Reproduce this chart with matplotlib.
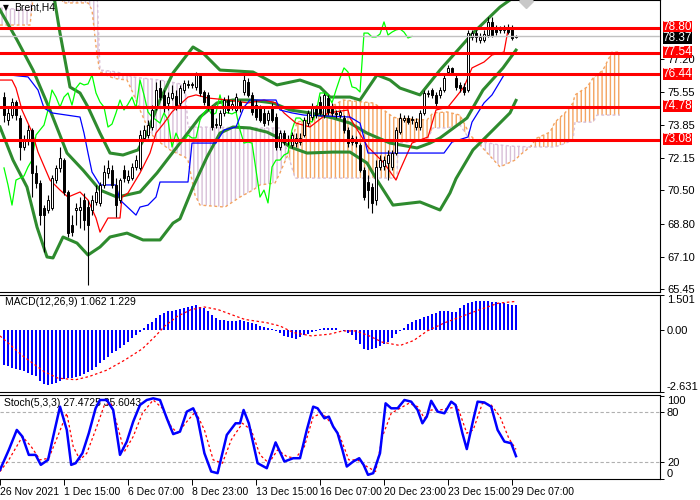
import matplotlib
matplotlib.use("Agg")
import matplotlib.pyplot as plt
import numpy as np

plt.rcParams['font.family'] = ['Liberation Sans', 'DejaVu Sans']
plt.rcParams['hatch.linewidth'] = 1.0

# candles, Brent H4 (bar index 0..128)
opens = [75.27, 74.10, 74.35, 75.02, 74.20, 72.72, 73.08, 73.59, 71.39, 70.88,
         69.60, 69.50, 69.60, 71.03, 71.65, 72.05, 70.42, 68.73, 69.50, 69.50,
         70.01, 69.65, 69.50, 69.91, 69.86, 70.78, 71.39, 71.54, 70.78, 70.01,
         71.54, 71.03, 71.13, 71.70, 71.65, 73.18, 73.33, 73.74, 74.76, 75.73,
         75.38, 74.97, 75.22, 75.32, 74.97, 75.63, 75.94, 75.89, 75.79, 76.40,
         75.53, 75.38, 74.76, 73.84, 73.84, 74.46, 75.12, 74.76, 74.61, 75.02,
         75.53, 76.04, 75.38, 74.86, 74.71, 74.46, 74.10, 74.76, 74.25, 72.72,
         73.43, 73.08, 72.82, 72.92, 72.97, 73.33, 73.94, 74.25, 74.71, 75.02,
         74.35, 75.22, 74.76, 74.46, 74.35, 74.20, 73.59, 73.18, 73.08, 72.82,
         71.54, 70.93, 70.67, 70.01, 71.70, 71.75, 71.90, 71.70, 72.41, 73.48,
         74.10, 74.20, 74.15, 73.74, 73.74, 74.46, 75.43, 75.63, 75.38, 75.38,
         75.63, 76.55, 76.76, 76.24, 75.89, 75.79, 75.63, 78.34, 78.54, 78.19,
         78.19, 78.44, 79.11, 78.80, 78.75, 78.70, 78.85, 78.75, 78.34]
highs = [75.53, 74.71, 75.22, 75.12, 74.35, 73.33, 73.84, 73.69, 71.80, 71.03,
         69.75, 70.27, 71.29, 71.80, 72.72, 72.15, 70.52, 69.24, 69.86, 70.16,
         70.37, 70.01, 70.27, 70.78, 70.93, 71.80, 72.05, 71.80, 71.13, 71.13,
         71.80, 71.54, 71.90, 72.31, 73.59, 73.84, 74.10, 74.86, 76.04, 76.14,
         75.63, 75.53, 75.89, 75.63, 75.89, 76.14, 76.14, 76.04, 76.55, 76.50,
         75.63, 75.53, 74.86, 74.20, 74.61, 75.27, 75.38, 75.12, 75.48, 75.12,
         76.40, 76.24, 75.53, 75.12, 74.86, 74.71, 74.61, 74.97, 74.46, 73.59,
         73.59, 73.33, 73.48, 73.43, 73.43, 74.25, 74.61, 74.97, 74.86, 75.32,
         75.48, 75.38, 74.97, 74.61, 74.61, 74.35, 73.74, 73.33, 73.28, 72.92,
         71.70, 71.29, 70.88, 72.05, 72.31, 72.26, 72.57, 72.57, 73.74, 74.46,
         74.35, 74.35, 74.30, 74.20, 74.61, 75.63, 75.63, 75.73, 75.53, 75.79,
         76.40, 76.91, 76.81, 76.40, 76.04, 75.99, 78.70, 78.70, 78.70, 78.54,
         78.70, 79.36, 79.36, 78.95, 78.90, 78.95, 79.00, 78.95, 78.44]
lows = [73.99, 73.84, 74.20, 74.10, 72.05, 72.57, 72.82, 70.16, 70.62, 68.73,
        67.35, 69.35, 69.50, 70.88, 71.44, 70.27, 68.12, 68.17, 68.73, 68.58,
        68.48, 65.67, 69.24, 69.75, 69.70, 70.62, 71.13, 70.62, 69.14, 69.86,
        70.93, 70.88, 71.03, 71.54, 71.54, 73.08, 73.18, 73.59, 74.61, 75.12,
        74.51, 74.61, 75.12, 74.61, 74.81, 75.48, 75.73, 75.73, 75.63, 75.32,
        74.86, 74.61, 73.59, 73.69, 73.69, 74.30, 74.46, 74.61, 74.51, 74.51,
        75.38, 75.27, 74.35, 74.10, 73.99, 73.79, 73.84, 73.99, 72.57, 72.57,
        72.82, 72.82, 72.67, 72.72, 72.82, 73.23, 73.79, 74.10, 74.20, 74.35,
        74.20, 74.35, 74.30, 74.20, 74.20, 73.43, 72.72, 72.82, 72.72, 71.44,
        70.01, 69.60, 69.35, 69.75, 71.54, 71.54, 71.03, 71.54, 72.31, 73.38,
        73.99, 73.89, 73.89, 73.59, 73.59, 74.35, 75.27, 75.22, 74.81, 75.22,
        75.53, 76.40, 76.40, 75.63, 75.53, 75.38, 75.53, 78.19, 78.08, 78.03,
        78.08, 78.34, 78.34, 78.44, 78.54, 78.54, 78.49, 78.19, 78.29]
closes = [74.35, 74.46, 75.02, 74.35, 72.72, 73.08, 73.59, 71.39, 70.88, 69.24,
          69.24, 70.01, 71.13, 71.65, 72.15, 70.42, 68.32, 68.37, 69.60, 69.65,
          68.99, 68.73, 70.01, 70.42, 70.78, 71.44, 71.65, 70.78, 69.75, 71.03,
          71.13, 71.24, 71.70, 72.05, 73.33, 73.59, 73.84, 74.61, 75.63, 75.27,
          74.76, 75.27, 75.48, 74.86, 75.73, 75.99, 75.89, 75.94, 76.40, 75.48,
          75.02, 74.76, 73.74, 73.89, 74.46, 75.12, 74.61, 74.91, 75.27, 74.71,
          76.14, 75.38, 74.51, 74.25, 74.10, 73.94, 74.46, 74.10, 72.72, 73.43,
          72.97, 73.03, 73.33, 73.18, 73.18, 74.10, 74.46, 74.71, 74.35, 74.46,
          75.38, 74.51, 74.46, 74.41, 74.51, 73.59, 72.92, 72.97, 72.92, 71.54,
          70.16, 70.52, 69.86, 71.70, 72.05, 72.05, 72.31, 72.41, 73.59, 74.20,
          74.20, 73.99, 74.10, 73.99, 74.46, 75.48, 75.48, 75.38, 74.97, 75.63,
          76.24, 76.76, 76.55, 75.79, 75.73, 75.53, 78.54, 78.54, 78.34, 78.34,
          78.49, 79.11, 78.44, 78.59, 78.70, 78.75, 78.59, 78.29, 78.37]

# Ichimoku: tenkan (red), kijun (blue), cloud spans
tk_i = [-1, 2, 3, 4.5, 7, 8.5, 11.5, 14, 16, 19, 21, 23, 24, 26, 29, 29.5, 31, 34, 36.5, 38,
        40, 42, 46, 48, 51, 56, 61, 65, 68, 70, 73, 76.5, 81, 86, 86.5, 91, 95, 98, 99, 102,
        106, 108, 111, 113, 115, 117, 120, 122, 125, 126, 128]
tenkan = [76.14, 76.14, 75.73, 74.61, 73.48, 72.46, 71.03, 70.52, 70.16, 70.42,
          70.01, 69.09, 68.37, 69.09, 69.09, 70.16, 70.37, 71.39, 72.41, 73.43,
          73.94, 74.51, 75.27, 75.38, 75.22, 75.12, 74.97, 75.12, 74.97, 74.46,
          73.94, 73.74, 74.46, 74.61, 74.20, 72.72, 71.90, 71.03, 71.54, 72.92,
          73.23, 74.61, 74.76, 75.27, 75.79, 76.76, 77.06, 77.42, 77.57, 78.70, 78.80]
kj_i = [-1, 6, 8.5, 10, 12, 19, 20, 21, 22, 24, 28, 29, 33, 34, 36, 38, 39, 46, 47, 53,
        55, 58, 60, 61.5, 68, 69, 72, 75, 86.5, 89, 91, 110, 112, 116, 117, 120, 122, 125, 128]
kijun = [76.45, 76.30, 75.63, 74.71, 74.46, 74.25, 73.43, 72.41, 71.44, 70.78,
         70.78, 70.01, 69.24, 69.65, 69.75, 70.16, 70.93, 70.93, 72.92, 72.92,
         73.59, 73.74, 74.76, 75.12, 75.12, 74.61, 74.46, 74.35, 74.25, 73.94,
         72.41, 72.41, 72.97, 73.23, 73.99, 74.97, 75.38, 76.40, 76.45]
cl_i = [-1, 6.5, 7.5, 14, 14.75, 21, 22, 23.25, 24, 26.5, 28.25, 30.75, 32.25, 34, 36.5,
        39, 41.5, 45.25, 46, 47.75, 49, 55.25, 59, 62.25, 64, 67.75, 69, 71.5, 72.75, 73.25,
        75.75, 80.25, 84.75, 92.25, 94, 97.25, 98.25, 98.5, 105.75, 107.25, 110.75, 114,
        116.5, 119, 124, 127.75, 129, 131.5, 133.25, 136.5, 137.75, 140.25, 142.25, 142.75,
        145.75, 147.25, 148.25, 149.75, 152, 154]
span_a = [78.95, 78.95, 80.74, 80.74, 80.08, 80.08, 79.72, 77.42, 76.55, 76.30,
          76.20, 76.14, 75.48, 74.61, 73.43, 72.95, 72.57, 72.20, 72.05, 70.27,
          69.75, 69.65, 70.16, 70.52, 70.78, 70.88, 71.40, 72.57, 73.60, 73.99,
          74.10, 74.61, 75.12, 74.97, 74.76, 74.25, 74.20, 74.20, 74.10, 74.46,
          74.51, 74.35, 73.33, 72.82, 71.70, 72.05, 72.31, 72.72, 73.18, 73.48,
          73.99, 74.46, 74.97, 75.38, 75.78, 76.24, 76.40, 76.65, 77.57, 77.57]
span_b = [79.82, 79.72, 80.74, 80.74, 80.74, 80.74, 80.74, 80.74, 76.65, 76.60,
          76.55, 76.40, 76.30, 76.25, 76.20, 76.14, 76.05, 75.89, 73.74, 73.74,
          73.74, 73.72, 73.70, 73.69, 73.69, 73.69, 73.69, 72.00, 71.13, 71.13,
          71.13, 71.13, 71.13, 71.13, 71.13, 71.13, 71.13, 72.92, 73.08, 73.69,
          73.69, 73.84, 73.08, 73.00, 72.82, 72.75, 72.75, 72.72, 72.72, 72.72,
          72.72, 72.90, 73.08, 73.99, 73.99, 73.99, 74.35, 74.35, 74.35, 74.35]

# Bollinger bands
bb_up_i = [12.5, 14, 16.5, 19, 21, 24, 26.5, 29.75, 33.5, 35.75, 39, 42.25, 47.25, 49.75, 54,
           62.25, 68.25, 74, 79, 81.5, 86.5, 89, 93.25, 96.5, 99, 104, 109, 117.25, 124, 128]
bb_up = [80.40, 78.54, 75.78, 75.48, 74.76, 73.43, 72.41, 72.31, 72.57, 73.43,
         75.12, 76.50, 77.83, 77.52, 76.65, 76.55, 75.89, 76.14, 75.78, 75.27,
         75.27, 75.12, 76.40, 76.14, 75.73, 75.38, 76.65, 78.54, 79.87, 80.45]
bb_mid_i = [-1, 3.25, 7.25, 11.5, 15.75, 19.75, 24, 28.25, 34, 38.25, 44, 49, 53.25, 57.25,
            61.5, 67.25, 71.5, 76.5, 82.25, 86.5, 90.75, 96.5, 103.25, 106.5, 109, 115.75,
            119.75, 124.75, 128]
bb_mid = [79.72, 78.19, 76.65, 74.61, 72.41, 71.54, 70.52, 70.16, 70.42, 71.39,
          72.92, 74.25, 74.97, 75.12, 75.12, 74.97, 74.61, 74.46, 74.20, 73.94,
          73.43, 72.92, 72.67, 72.92, 73.18, 74.20, 75.63, 76.76, 77.67]
bb_lo_i = [-1, 2.25, 5.75, 8.25, 10.75, 12.25, 14.75, 18.25, 21, 24, 26.5, 30.75, 34.75, 39,
           42.25, 44, 47.25, 50.75, 54, 57.25, 61.5, 65.75, 68.25, 71.5, 75.75, 82.25, 86.5,
           90.75, 93.25, 97.25, 104, 109, 111.5, 113, 117.25, 122.25, 126.5, 128]
bb_lo = [73.74, 72.05, 70.67, 68.63, 67.10, 67.05, 68.12, 67.81, 67.20, 67.61,
         68.12, 68.32, 67.97, 67.97, 68.83, 69.05, 70.67, 72.21, 73.43, 73.74,
         73.69, 73.48, 73.23, 72.72, 72.41, 72.46, 72.46, 71.90, 71.03, 69.75,
         69.91, 69.50, 70.37, 71.10, 72.57, 73.59, 74.46, 75.10]

levels = [78.80, 77.54, 76.44, 74.78, 73.08]
bid = 78.37
price_ticks = [77.20, 75.55, 73.85, 72.15, 70.50, 68.80, 67.10, 65.45]

# MACD(12,26,9)
macd = [-1.49, -1.54, -1.59, -1.63, -1.68, -1.75, -1.82, -1.90, -1.97, -2.15,
        -2.30, -2.32, -2.29, -2.24, -2.15, -2.09, -2.05, -2.03, -2.00, -1.95,
        -1.88, -1.80, -1.68, -1.56, -1.40, -1.25, -1.12, -0.99, -0.87, -0.74,
        -0.62, -0.49, -0.35, -0.22, -0.08, 0.08, 0.25, 0.37, 0.50, 0.64,
        0.72, 0.80, 0.84, 0.88, 0.92, 0.96, 1.00, 1.04, 1.07, 1.01,
        0.93, 0.82, 0.64, 0.50, 0.44, 0.42, 0.41, 0.39, 0.41, 0.42,
        0.40, 0.37, 0.32, 0.26, 0.20, 0.12, 0.08, 0.06, -0.03, -0.12,
        -0.24, -0.29, -0.33, -0.37, -0.30, -0.22, -0.15, -0.09, -0.03, 0.05,
        0.09, 0.11, 0.11, 0.10, 0.02, -0.04, -0.10, -0.22, -0.40, -0.60,
        -0.80, -0.86, -0.82, -0.75, -0.68, -0.60, -0.50, -0.33, -0.16, -0.02,
        0.10, 0.28, 0.36, 0.42, 0.48, 0.55, 0.62, 0.68, 0.74, 0.80,
        0.84, 0.82, 0.78, 0.76, 0.95, 1.08, 1.15, 1.20, 1.24, 1.25,
        1.25, 1.24, 1.22, 1.20, 1.17, 1.15, 1.12, 1.09, 1.06]
sig_i = [-1, 4.5, 10.1, 13.5, 17.9, 21.3, 25.7, 30.1, 34.6, 37.9, 40.2, 43.4, 46.8, 50.1,
         53.5, 56.8, 60.2, 65.7, 69, 72.4, 76.8, 81.3, 84.6, 88, 91.3, 94.6, 99, 102.4,
         105.8, 110.2, 114.6, 119, 123.5, 128]
signal = [-0.24, -1.07, -1.77, -2.04, -2.11, -1.97, -1.70, -1.28, -0.79, -0.24,
          0.18, 0.60, 0.88, 0.99, 0.88, 0.67, 0.46, 0.32, 0.18, -0.10,
          -0.24, -0.17, -0.03, -0.03, -0.24, -0.51, -0.65, -0.44, -0.03, 0.32,
          0.60, 0.88, 1.15, 1.23]

# Stochastic(5,3,3)
stk_i = [-1, 1.2, 3.2, 4.6, 6.2, 7.9, 9.2, 11, 12.3, 14, 15.7, 16.8, 17.9, 19.6, 21.2, 22.9,
         24, 25.7, 27.3, 29, 30.7, 32.3, 34, 35.7, 37.3, 39, 40.7, 42.3, 44, 45.7, 47.3, 48.4,
         50.1, 51.8, 53.4, 55.7, 57.9, 59, 59.9, 61.2, 63.4, 65.7, 67.9, 70.1, 72.3, 74, 75.7,
         77.3, 78.4, 80.1, 81.2, 82.3, 83.4, 84.6, 85.7, 87.3, 88.8, 89.9, 91, 92.3, 94, 95.4,
         96.8, 98.4, 100.1, 101.8, 103.4, 104.6, 105.7, 106.8, 108.4, 110.1, 111.8, 112.9,
         114.6, 115.7, 117.3, 118.4, 120.1, 121.8, 123.4, 125.1, 126.8, 128]
stoch_k = [11, 35, 59, 51, 29, 29, 17, 23, 51, 87, 59, 17, 19, 31, 55, 85, 95, 95, 83, 29,
           45, 69, 89, 95, 97, 95, 73, 54, 57, 81, 85, 73, 31, 9, 7, 53, 67, 67, 83, 67,
           19, 13, 44, 21, 25, 25, 59, 87, 85, 73, 75, 63, 55, 35, 15, 21, 25, 17, 5, 7,
           31, 91, 85, 85, 95, 93, 83, 67, 75, 94, 81, 79, 93, 89, 55, 36, 71, 93, 92, 87,
           59, 45, 43, 27.47]
std_i = [-1, 1.2, 4.6, 6.8, 9, 11.2, 13.4, 15.7, 17.3, 19, 20.7, 22.9, 25.1, 26.8, 28.4,
         30.1, 32.3, 34.6, 37.3, 39.6, 41.8, 43.4, 45.7, 47.9, 50.1, 52.3, 54.6, 56.8, 59.6,
         61.8, 64, 66.2, 68.4, 70.7, 72.9, 75.1, 77.3, 79.6, 81.8, 84, 86.2, 88.4, 90.7, 92.9,
         94.6, 96.8, 99, 101.2, 103.4, 105.1, 106.8, 109, 111.2, 113.4, 115.7, 117.3, 119.6,
         121.8, 124, 126.2, 128]
stoch_d = [9, 23, 51, 39, 23, 25, 51, 79, 39, 23, 31, 59, 89, 91, 63, 33, 51, 79, 95, 85,
           63, 55, 69, 81, 59, 23, 19, 47, 67, 59, 29, 19, 35, 27, 25, 39, 75, 79, 67, 51,
           23, 23, 15, 9, 51, 79, 85, 91, 87, 73, 83, 83, 85, 87, 55, 59, 91, 89, 75, 49, 35.6]

date_idx = [-1, 15, 31, 47, 63, 79, 95, 111, 127]
date_lbl = ["26 Nov 2021", "1 Dec 15:00", "6 Dec 07:00", "8 Dec 23:00", "13 Dec 15:00",
            "16 Dec 07:00", "20 Dec 23:00", "23 Dec 15:00", "29 Dec 07:00"]

o = np.array(opens); h = np.array(highs); l = np.array(lows); c = np.array(closes)
idx = np.arange(len(c))

fig = plt.figure(figsize=(7, 5), dpi=100)
W = 660 / 700
ax = fig.add_axes([0, 1 - 292 / 500, W, 292 / 500])
ax2 = fig.add_axes([0, 1 - 392 / 500, W, 97 / 500])
ax3 = fig.add_axes([0, 1 - 479 / 500, W, 84 / 500])

FS = 7.5
for a in (ax, ax2, ax3):
    a.set_xlim(-1, 164)
    a.spines['left'].set_visible(False)
    for s in ('top', 'bottom', 'right'):
        a.spines[s].set_linewidth(0.8)
    a.yaxis.tick_right()
    a.tick_params(axis='y', length=3, width=0.7, pad=2, labelsize=8)
    a.tick_params(axis='x', bottom=False, labelbottom=False)

# --- main chart ---
ax.set_ylim(65.31, 80.23)
ca = np.array(cl_i); sa = np.array(span_a); sb = np.array(span_b)
ax.fill_between(ca, sa, sb, where=sa >= sb, interpolate=True, facecolor='none',
                edgecolor='#F4A460', hatch='||||', linewidth=0, zorder=1)
ax.fill_between(ca, sa, sb, where=sb > sa, interpolate=True, facecolor='none',
                edgecolor='#D8BFD8', hatch='||||', linewidth=0, zorder=1)
ax.plot(ca, sa, color='#F4A460', lw=1.0, ls=(0, (2, 2)), zorder=1.5)
ax.plot(ca, sb, color='#D8BFD8', lw=1.0, ls=(0, (2, 2)), zorder=1.5)

for bi, bv in ((bb_up_i, bb_up), (bb_mid_i, bb_mid), (bb_lo_i, bb_lo)):
    ax.plot(bi, bv, color='#2E8B2E', lw=2.2, zorder=2)

ax.plot(idx[:-26], c[26:], color='#00FF00', lw=0.9, zorder=3)   # chikou
ax.plot(tk_i, tenkan, color='red', lw=0.9, zorder=3)
ax.plot(kj_i, kijun, color='blue', lw=0.9, zorder=3)

ax.vlines(idx, l, h, color='black', lw=0.8, zorder=4)
body = np.maximum(np.abs(c - o), 0.03)
fc = ['white' if cc >= oo else 'black' for oo, cc in zip(o, c)]
ax.bar(idx, body, bottom=np.minimum(o, c), width=0.65, color=fc, edgecolor='black',
       linewidth=0.7, zorder=4)

ax.axhline(bid, color='#C0C0C0', lw=1, zorder=4.5)
for lv in levels:
    ax.axhline(lv, color='red', lw=2.2, zorder=5)
ax.plot([130.5], [80.2], marker='D', ms=7, color='#C8C8C8', zorder=5)

ax.set_yticks(price_ticks)
ax.set_yticklabels([f"{p:.2f}" for p in price_ticks])
yt = ax.get_yaxis_transform()
for lv in levels:
    ax.text(1.004, lv + 0.03, f"{lv:.2f}", transform=yt, ha='left', va='center',
            fontsize=8.5, color='white', clip_on=False, zorder=10,
            bbox=dict(boxstyle='square,pad=0.0', fc='red', ec='none'))
ax.text(1.004, bid - 0.1, f"{bid:.2f}", transform=yt, ha='left', va='center', fontsize=8.5,
        color='white', clip_on=False, zorder=10,
        bbox=dict(boxstyle='square,pad=0.0', fc='black', ec='none'))
ax.text(0.004, 1 - 8 / 292, "\u25bc", transform=ax.transAxes, fontsize=5.5, va='center',
        family='DejaVu Sans')
ax.text(0.022, 1 - 8 / 292, "Brent,H4", transform=ax.transAxes, fontsize=FS, va='center')

# --- MACD ---
ax2.set_ylim(-2.631, 1.501)
ax2.bar(idx, macd, width=0.72, color='#0000FF', zorder=2)
ax2.plot(sig_i, signal, color='red', lw=0.9, ls=(0, (2, 2)), zorder=3)
ax2.set_yticks([1.501, 0.0, -2.631])
ax2.set_yticklabels(["1.501", "0.00", "-2.631"])
tl = ax2.get_yticklabels()
tl[0].set_va('top'); tl[2].set_va('bottom')
ax2.text(0.007, 0.925, "MACD(12,26,9) 1.062 1.229", transform=ax2.transAxes,
         fontsize=FS, va='center', zorder=1)

# --- Stochastic ---
ax3.set_ylim(0, 101)
for lv in (80, 20):
    ax3.axhline(lv, color='#B0B0B0', lw=0.8, ls=(0, (3, 2)), zorder=1)
ax3.plot(std_i, stoch_d, color='red', lw=0.9, ls=(0, (2, 2)), zorder=3)
ax3.plot(stk_i, stoch_k, color='#0000FF', lw=1.8, zorder=4)
ax3.set_yticks([100, 80, 20, 0])
ax3.set_yticklabels(["100", "80", "20", "0"])
tl = ax3.get_yticklabels()
tl[0].set_va('top'); tl[3].set_va('bottom')
ax3.text(0.006, 0.9, "Stoch(5,3,3) 27.4725 35.6043", transform=ax3.transAxes,
         fontsize=FS, va='center', zorder=2)
ax3.tick_params(axis='x', bottom=True, labelbottom=True, length=4, width=0.7,
                labelsize=FS, pad=2)
ax3.set_xticks(date_idx)
ax3.set_xticklabels(date_lbl, ha='left')

fig.savefig('out.png', dpi=100)
